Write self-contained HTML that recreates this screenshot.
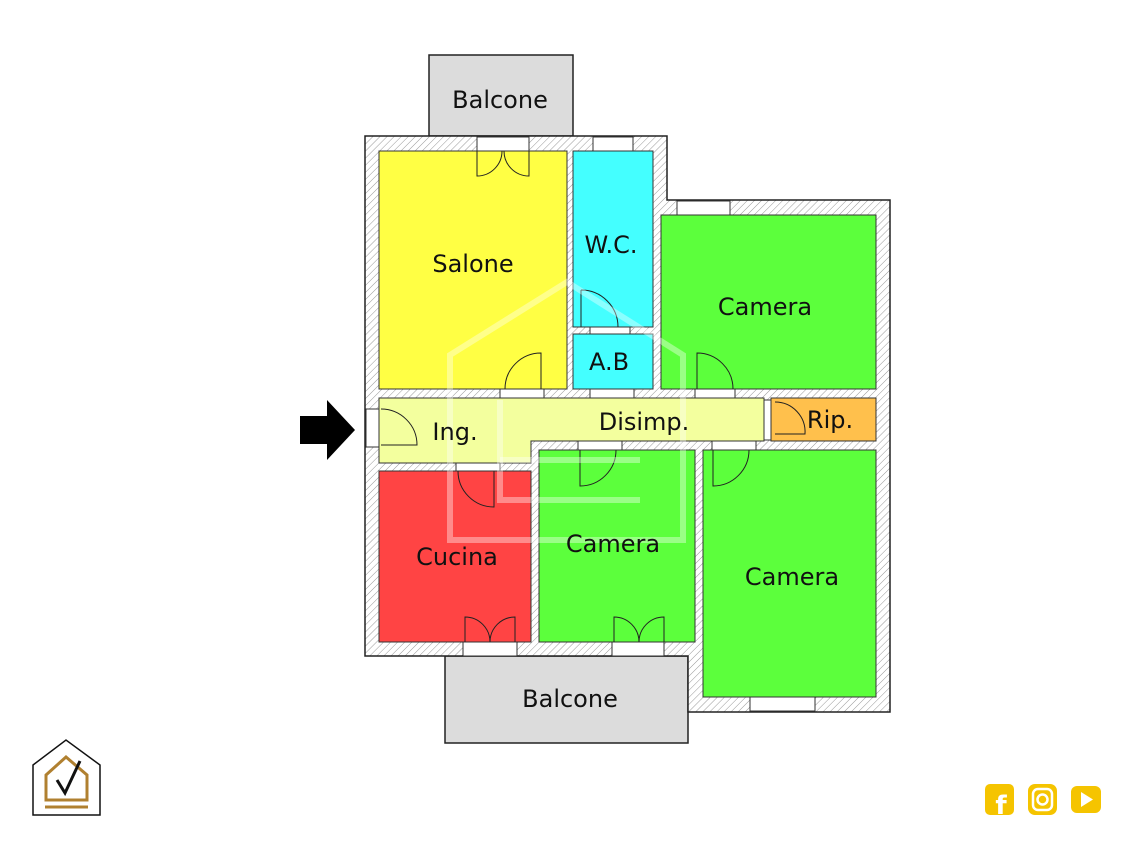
<!DOCTYPE html>
<html><head><meta charset="utf-8"><style>
html,body{margin:0;padding:0;background:#fff;width:1133px;height:850px;overflow:hidden}
svg{display:block}
text{font-family:"DejaVu Sans","Liberation Sans",sans-serif;font-size:24px;fill:#111;text-anchor:middle}
</style></head><body>
<svg width="1133" height="850" viewBox="0 0 1133 850" xmlns="http://www.w3.org/2000/svg">
<defs>
<pattern id="h" width="5" height="5" patternUnits="userSpaceOnUse" patternTransform="rotate(45)">
<rect width="5" height="5" fill="#fff"/><line x1="0" y1="0" x2="0" y2="5" stroke="#999" stroke-width="1"/>
</pattern>
</defs>
<rect x="429" y="55" width="144" height="81" fill="#dcdcdc" stroke="#222" stroke-width="1.5"/>
<rect x="445" y="656" width="243" height="87" fill="#dcdcdc" stroke="#222" stroke-width="1.5"/>
<polygon points="365,136 667,136 667,200 890,200 890,712 688,712 688,656 365,656" fill="url(#h)" stroke="#222" stroke-width="1.5"/>
<g fill="#fff" stroke="#333" stroke-width="1">
<rect x="477" y="137" width="52" height="14"/>
<rect x="593" y="137" width="40" height="14"/>
<rect x="677" y="201" width="53" height="14"/>
<rect x="366" y="409" width="13" height="38"/>
<rect x="463" y="642" width="54" height="14"/>
<rect x="612" y="642" width="52" height="14"/>
<rect x="750" y="697" width="65" height="14"/>
<rect x="500" y="389" width="44" height="9"/>
<rect x="590" y="327" width="40" height="7"/>
<rect x="590" y="389" width="44" height="9"/>
<rect x="695" y="389" width="40" height="9"/>
<rect x="764" y="400" width="7" height="40"/>
<rect x="456" y="463" width="44" height="8"/>
<rect x="578" y="441" width="44" height="9"/>
<rect x="712" y="441" width="44" height="9"/>
</g>
<g stroke="#333" stroke-width="1">
<rect x="379" y="151" width="188" height="238" fill="#ffff44"/>
<rect x="573" y="151" width="80" height="176" fill="#44ffff"/>
<rect x="573" y="334" width="80" height="55" fill="#44ffff"/>
<rect x="661" y="215" width="215" height="174" fill="#5cff3c"/>
<polygon points="379,398 764,398 764,441 531,441 531,463 379,463" fill="#f3ff9e"/>
<rect x="771" y="398" width="105" height="43" fill="#ffc04c"/>
<rect x="379" y="471" width="152" height="171" fill="#ff4444"/>
<rect x="539" y="450" width="156" height="192" fill="#5cff3c"/>
<rect x="703" y="450" width="173" height="247" fill="#5cff3c"/>
</g>
<g fill="none" stroke="#222" stroke-width="1">
<path d="M477,151 v25 a25,25 0 0 0 25,-25 M529,151 v25 a25,25 0 0 1 -25,-25"/>
<path d="M541,389 v-36 a36,36 0 0 0 -36,36"/>
<path d="M581,290 v37 M581,290 a37,37 0 0 1 37,37"/>
<path d="M697,389 v-36 a36,36 0 0 1 36,36"/>
<path d="M381,409 a36,36 0 0 1 36,36 h-36"/>
<path d="M775,402 a30,30 0 0 1 30,32 h-30"/>
<path d="M458,471 a36,36 0 0 0 36,36 v-36"/>
<path d="M580,450 v36 a36,36 0 0 0 36,-36"/>
<path d="M713,450 v36 a36,36 0 0 0 36,-36"/>
<path d="M465,642 v-25 a25,25 0 0 1 25,25 M515,642 v-25 a25,25 0 0 0 -25,25"/>
<path d="M614,642 v-25 a25,25 0 0 1 25,25 M664,642 v-25 a25,25 0 0 0 -25,25"/>
</g>
<g fill="none" stroke="#fff" stroke-opacity="0.38" stroke-width="6">
<polygon points="450,355 567,282 683,355 683,540 450,540"/>
<polyline points="500,400 500,500 640,500"/>
<line x1="500" y1="460" x2="640" y2="460"/>
</g>
<text x="500" y="108">Balcone</text>
<text x="473" y="272">Salone</text>
<text x="611" y="253">W.C.</text>
<text x="609" y="370" fill="#333">A.B</text>
<text x="765" y="315">Camera</text>
<text x="455" y="440">Ing.</text>
<text x="644" y="430">Disimp.</text>
<text x="830" y="428">Rip.</text>
<text x="457" y="565">Cucina</text>
<text x="613" y="552">Camera</text>
<text x="792" y="585">Camera</text>
<text x="570" y="707">Balcone</text>
<polygon points="300,416 327,416 327,400 355,430 327,460 327,444 300,444" fill="#000"/>
<polygon points="33,765 66,740 100,765 100,815 33,815" fill="none" stroke="#111" stroke-width="1.5"/>
<polygon points="46,775 66,757 87,775 87,800 46,800" fill="none" stroke="#b08030" stroke-width="3"/>
<line x1="45" y1="807" x2="88" y2="807" stroke="#b08030" stroke-width="3"/>
<path d="M57,780 l8,13 l15,-32" fill="none" stroke="#111" stroke-width="3"/>
<rect x="985" y="784" width="29" height="31" rx="5" fill="#f5c400"/>
<text x="1001" y="814" style="font-size:26px;font-weight:bold;fill:#fff">f</text>
<rect x="1028" y="784" width="29" height="31" rx="7" fill="#f5c400"/>
<rect x="1033" y="789" width="19" height="21" rx="5" fill="none" stroke="#fff" stroke-width="2.5"/>
<circle cx="1042.5" cy="799.5" r="5" fill="none" stroke="#fff" stroke-width="2.5"/>
<rect x="1071" y="786" width="30" height="27" rx="6" fill="#f5c400"/>
<polygon points="1081,792 1093,799.5 1081,807" fill="#fff"/>
</svg>
</body></html>
